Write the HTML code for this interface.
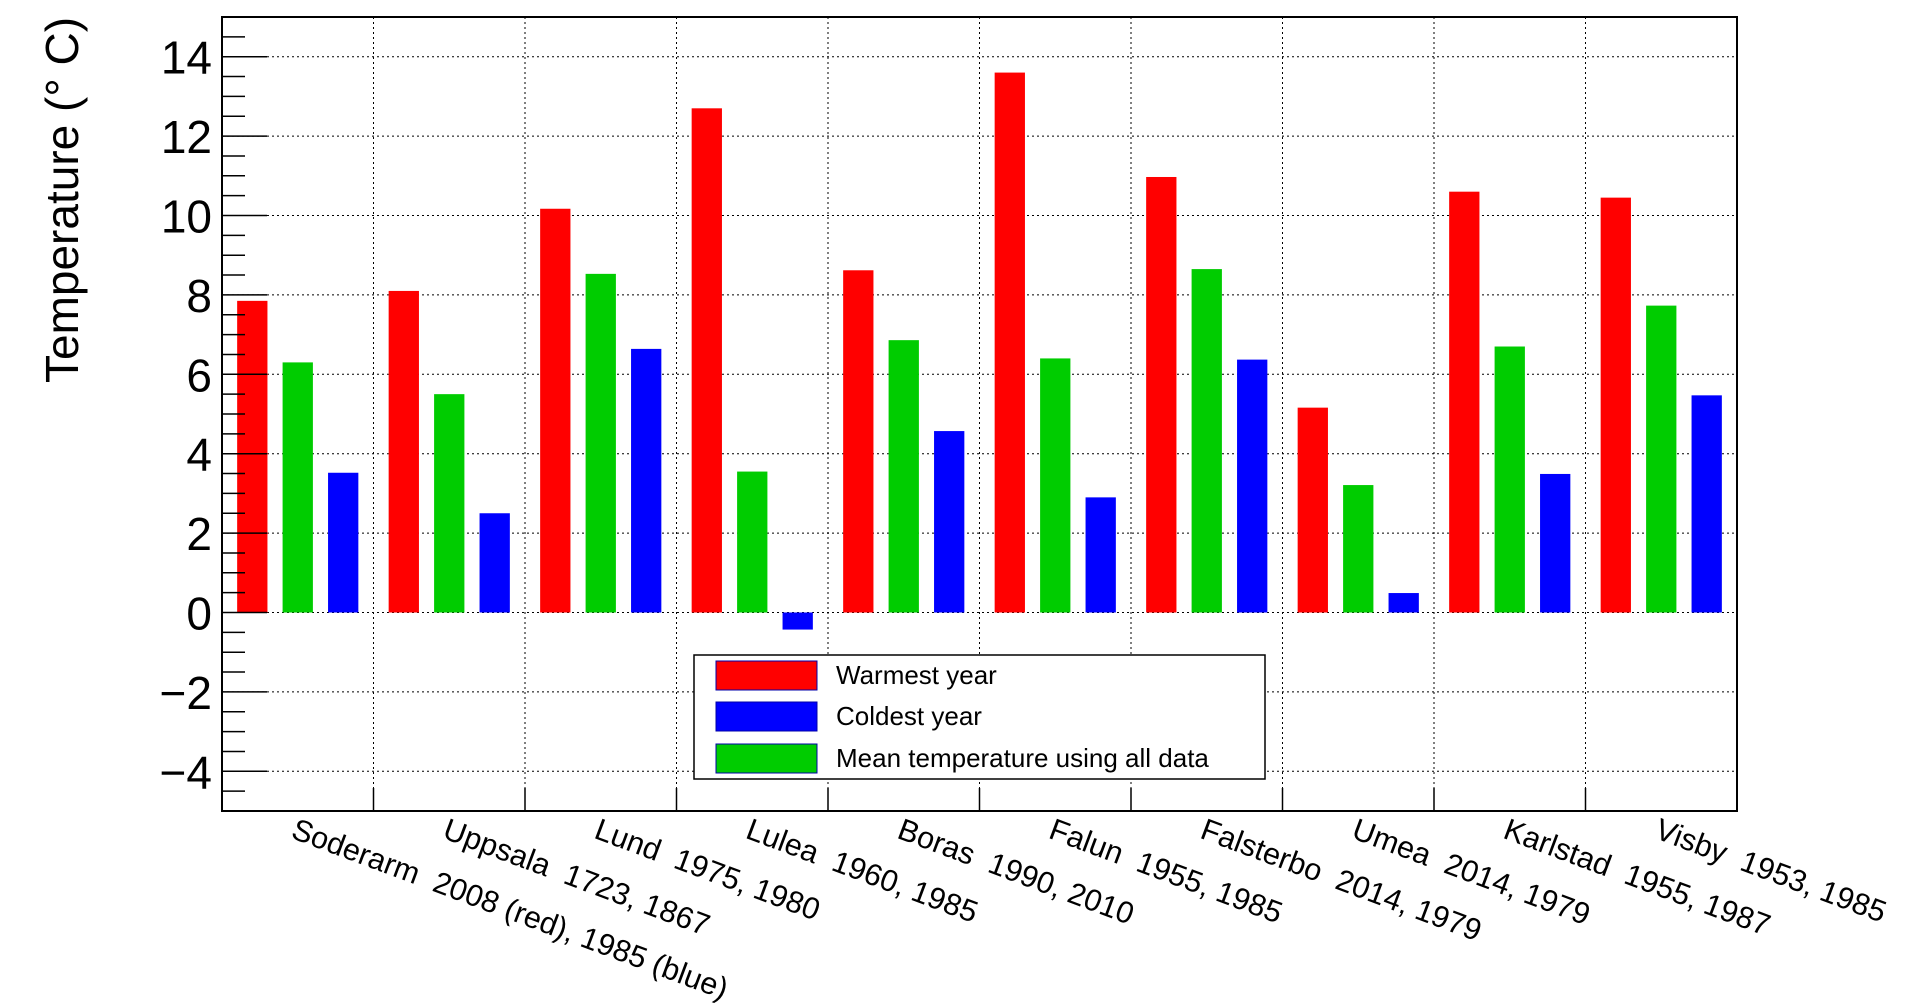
<!DOCTYPE html>
<html><head><meta charset="utf-8"><style>
html,body{margin:0;padding:0;background:#fff;}
svg{display:block;font-family:"Liberation Sans",Arial,sans-serif;}
</style></head><body>
<svg id="chart" width="1916" height="1005" viewBox="0 0 1916 1005" xmlns="http://www.w3.org/2000/svg">
<g id="grid"></g>
<g id="bars"></g>
<rect x="222" y="17" width="1515" height="794" fill="none" stroke="#000" stroke-width="2"/>
<g id="yaxis"></g>
<g id="xaxis"></g>
<text transform="translate(78,200) rotate(-90)" text-anchor="middle" font-size="46">Temperature (° C)</text>
<g>
<rect x="694" y="655" width="571" height="124" fill="#fff" stroke="#000" stroke-width="1.5"/>
<g><rect x="716" y="661" width="101" height="29" fill="#ff0000" stroke="#0000aa" stroke-width="1"/><text x="836" y="684" font-size="26">Warmest year</text></g>
<g><rect x="716" y="702" width="101" height="29" fill="#0000ff" stroke="#0000aa" stroke-width="1"/><text x="836" y="725" font-size="26">Coldest year</text></g>
<g><rect x="716" y="744" width="101" height="29" fill="#00cc00" stroke="#0000aa" stroke-width="1"/><text x="836" y="767" font-size="26">Mean temperature using all data</text></g>
</g>
</svg>
<script>
const categories=["Soderarm  2008 (red), 1985 (blue)","Uppsala  1723, 1867","Lund  1975, 1980","Lulea  1960, 1985","Boras  1990, 2010","Falun  1955, 1985","Falsterbo  2014, 1979","Umea  2014, 1979","Karlstad  1955, 1987","Visby  1953, 1985"];
const warmest=[7.85,8.1,10.17,12.7,8.62,13.6,10.97,5.16,10.6,10.45];
const mean=[6.3,5.5,8.53,3.55,6.86,6.4,8.65,3.21,6.7,7.73];
const coldest=[3.52,2.5,6.64,-0.43,4.57,2.9,6.37,0.49,3.49,5.47];
const yTicks=[-4,-2,0,2,4,6,8,10,12,14];
const yTickLabels=["\u22124","\u22122","0","2","4","6","8","10","12","14"];
const NS="http://www.w3.org/2000/svg";
const X0=222,X1=1737,Y0=17,Y1=811,YMIN=-5,YMAX=15;
const catW=(X1-X0)/categories.length;
function xs(i,off){return X0+(i+off)*catW;}
function ys(v){return Y1-(v-YMIN)/(YMAX-YMIN)*(Y1-Y0);}
function mk(tag,attrs,parent){const e=document.createElementNS(NS,tag);for(const k in attrs)e.setAttribute(k,attrs[k]);parent.appendChild(e);return e;}
const grid=document.getElementById('grid'),bars=document.getElementById('bars'),ya=document.getElementById('yaxis'),xa=document.getElementById('xaxis');
yTicks.forEach((t,i)=>{
  const y=ys(t);
  const g=mk('line',{x1:X0,x2:X1,y1:y,y2:y,stroke:'#000','stroke-width':1,'stroke-dasharray':'2,3'},grid);
  
  
  const tk=mk('line',{x1:X0,x2:X0+45,y1:y,y2:y,stroke:'#000','stroke-width':1.5},ya);
  
  
  const lb=mk('text',{x:212,y:y+17,'text-anchor':'end','font-size':46},ya);
  lb.textContent=yTickLabels[i];
  
  
});
for(let v=YMIN;v<=YMAX;v+=0.5){
  if(Math.abs(v%2)<1e-9||v===YMIN||v===YMAX)continue;
  const y=ys(v);
  const tk=mk('line',{x1:X0,x2:X0+23,y1:y,y2:y,stroke:'#000','stroke-width':1.5},ya);
  
  
}
for(let i=1;i<categories.length;i++){
  const x=xs(i,0);
  const g=mk('line',{x1:x,x2:x,y1:Y0,y2:Y1,stroke:'#000','stroke-width':1,'stroke-dasharray':'2,3'},grid);
  
  
  const tk=mk('line',{x1:x,x2:x,y1:Y1-23,y2:Y1,stroke:'#000','stroke-width':1.5},xa);
  
  
}
const series=[[warmest,0.1,'#ff0000','warmest'],[mean,0.4,'#00cc00','mean'],[coldest,0.7,'#0000ff','coldest']];
categories.forEach((c,i)=>{
  series.forEach(([arr,off,col,nm])=>{
    const v=arr[i];const y0=ys(0),yv=ys(v);
    const r=mk('rect',{x:xs(i,off),y:Math.min(y0,yv),width:catW*0.2,height:Math.abs(y0-yv),fill:col},bars);
    
    
  });
  const cx=xs(i,0.5);
  const t=mk('text',{x:cx,y:839,'font-size':30.5,transform:'rotate(20.5 '+cx+' 816)'},xa);
  t.setAttribute('xml:space','preserve');
  t.style.whiteSpace='pre';
  t.textContent=c;
  
  
});
</script>
</body></html>
